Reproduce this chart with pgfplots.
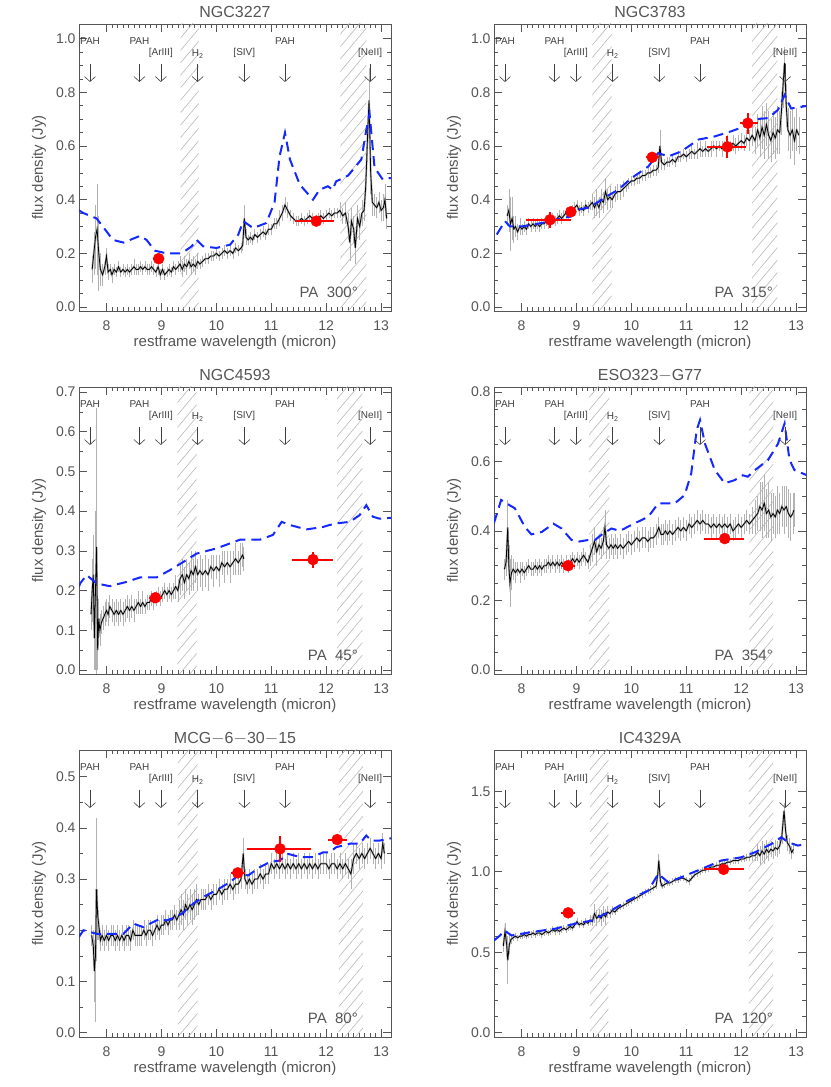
\documentclass[border=0pt]{standalone}
\usepackage{fontspec}
\setmainfont{Liberation Sans}
\usepackage{pgfplots}
\pgfplotsset{compat=1.18}
\usepackage{pgfplotstable}
\usetikzlibrary{patterns.meta,arrows.meta}

\definecolor{axc}{RGB}{85,85,85}
\definecolor{modelblue}{RGB}{20,40,255}

\pgfplotsset{
  panel/.style={
    anchor=south west, scale only axis, width=312pt, height=287pt,
    xmin=7.5, xmax=13.18, xtick={8,9,10,11,12,13}, minor x tick num=9,
    axis line style={axc, line width=0.8pt},
    every tick/.style={axc, line width=0.6pt},
    tick align=inside, major tick length=8pt, minor tick length=4pt,
    /pgf/number format/assume math mode=true,
    ticklabel style={font=\fontsize{14}{14}\selectfont, text=axc},
    xticklabel style={anchor=base, yshift=-20pt},
    yticklabel style={/pgf/number format/.cd, fixed, fixed zerofill, precision=1},
    xlabel={restframe wavelength (micron)}, ylabel={flux density (Jy)},
    every axis x label/.style={at={(axis description cs:0.5,-0.111)}, anchor=center,
      font=\fontsize{15}{15}\selectfont, text=axc},
    every axis y label/.style={at={(axis description cs:-0.128,0.5)}, anchor=center, rotate=90,
      font=\fontsize{15}{15}\selectfont, text=axc},
    title style={at={(axis description cs:0.5,1)}, anchor=base, yshift=0pt,
      font=\fontsize{16}{16}\selectfont, text=axc},
  },
  hatch/.style={draw=none, forget plot,
    pattern={Lines[angle=50,distance=8pt,line width=0.6pt]}, pattern color=black!28},
  spec/.style={gray!55, line width=2pt, forget plot,
    error bars/.cd, y dir=both, y explicit, error mark=none,
    error bar style={line width=0.6pt, gray!60}},
  specmean/.style={black, line width=0.8pt, forget plot},
  model/.style={modelblue, line width=2pt, dash pattern=on 10pt off 6pt, forget plot},
  phot/.style={red, only marks, mark=*, mark size=5.5pt, forget plot,
    error bars/.cd, x dir=both, x explicit, y dir=both, y explicit, error mark=none,
    error bar style={line width=2pt, red}},
}
\tikzset{
  lbl/.style={font=\fontsize{10}{10}\selectfont, text=black!75, inner sep=0pt},
  arr/.style={-{Straight Barb[length=5pt,width=11pt]}, line width=0.6pt, black!75},
}
\newcommand{\linelabels}{%
  \node[lbl] at (rel axis cs:0.0352,0.941) {PAH};
  \node[lbl] at (rel axis cs:0.1937,0.941) {PAH};
  \node[lbl] at (rel axis cs:0.6602,0.941) {PAH};
  \node[lbl] at (rel axis cs:0.2623,0.899) {[ArIII]};
  \node[lbl] at (rel axis cs:0.3803,0.896) {H\textsubscript{2}};
  \node[lbl] at (rel axis cs:0.5299,0.899) {[SIV]};
  \node[lbl] at (rel axis cs:0.9331,0.899) {[NeII]};
  \draw[arr] (rel axis cs:0.0352,0.861) -- (rel axis cs:0.0352,0.798);
  \draw[arr] (rel axis cs:0.1937,0.861) -- (rel axis cs:0.1937,0.798);
  \draw[arr] (rel axis cs:0.2623,0.861) -- (rel axis cs:0.2623,0.798);
  \draw[arr] (rel axis cs:0.3803,0.861) -- (rel axis cs:0.3803,0.798);
  \draw[arr] (rel axis cs:0.5299,0.861) -- (rel axis cs:0.5299,0.798);
  \draw[arr] (rel axis cs:0.6602,0.861) -- (rel axis cs:0.6602,0.798);
  \draw[arr] (rel axis cs:0.9331,0.861) -- (rel axis cs:0.9331,0.798);
}
\newcommand{\palabel}[1]{\node[anchor=base east, font=\fontsize{15}{15}\selectfont, text=axc]
  at (rel axis cs:0.905,0.046) {PA\ \ #1°};}

% ---------------- spectra: x  flux  error ----------------
\pgfplotstableread{
x y e
7.74 0.14 0.05
7.77 0.20 0.08
7.80 0.26 0.12
7.83 0.29 0.17
7.86 0.20 0.14
7.89 0.14 0.06
7.93 0.12 0.04
7.97 0.15 0.03
8.00 0.19 0.03
8.03 0.13 0.03
8.07 0.14 0.02
8.10 0.12 0.03
8.14 0.14 0.02
8.18 0.13 0.02
8.22 0.15 0.02
8.26 0.13 0.02
8.30 0.14 0.02
8.34 0.13 0.02
8.38 0.14 0.02
8.42 0.13 0.02
8.46 0.14 0.02
8.50 0.15 0.03
8.54 0.14 0.02
8.58 0.14 0.02
8.62 0.15 0.02
8.66 0.14 0.02
8.70 0.15 0.02
8.74 0.14 0.02
8.78 0.14 0.02
8.82 0.15 0.02
8.86 0.14 0.02
8.90 0.13 0.02
8.94 0.15 0.03
8.98 0.12 0.02
9.02 0.14 0.02
9.06 0.12 0.02
9.10 0.13 0.02
9.14 0.14 0.02
9.18 0.13 0.02
9.22 0.15 0.02
9.26 0.14 0.02
9.30 0.15 0.02
9.34 0.16 0.03
9.38 0.14 0.03
9.42 0.16 0.03
9.46 0.15 0.03
9.50 0.17 0.03
9.54 0.15 0.03
9.58 0.16 0.03
9.62 0.15 0.03
9.66 0.17 0.03
9.70 0.16 0.02
9.75 0.17 0.02
9.80 0.18 0.02
9.85 0.18 0.02
9.90 0.19 0.02
9.95 0.19 0.02
10.00 0.20 0.02
10.05 0.19 0.02
10.10 0.20 0.02
10.15 0.21 0.02
10.20 0.20 0.02
10.25 0.21 0.02
10.30 0.20 0.02
10.35 0.22 0.02
10.40 0.21 0.02
10.45 0.22 0.02
10.48 0.23 0.02
10.51 0.33 0.05
10.54 0.26 0.03
10.58 0.25 0.02
10.62 0.26 0.02
10.66 0.25 0.02
10.70 0.27 0.02
10.75 0.26 0.02
10.80 0.27 0.02
10.85 0.28 0.02
10.90 0.27 0.02
10.95 0.29 0.02
11.00 0.29 0.02
11.05 0.31 0.02
11.10 0.31 0.02
11.15 0.33 0.03
11.20 0.35 0.03
11.25 0.38 0.03
11.30 0.36 0.03
11.35 0.34 0.02
11.40 0.33 0.02
11.45 0.32 0.02
11.50 0.32 0.02
11.55 0.33 0.02
11.60 0.32 0.02
11.65 0.33 0.02
11.70 0.34 0.02
11.75 0.33 0.02
11.80 0.32 0.02
11.85 0.33 0.02
11.90 0.34 0.02
11.95 0.33 0.02
12.00 0.34 0.02
12.05 0.35 0.02
12.10 0.34 0.02
12.15 0.35 0.02
12.20 0.35 0.02
12.25 0.36 0.03
12.30 0.34 0.03
12.35 0.35 0.04
12.40 0.30 0.05
12.43 0.24 0.07
12.46 0.32 0.05
12.50 0.29 0.05
12.53 0.22 0.06
12.57 0.33 0.05
12.61 0.30 0.05
12.65 0.35 0.05
12.69 0.36 0.04
12.72 0.45 0.05
12.75 0.62 0.08
12.78 0.77 0.12
12.81 0.50 0.08
12.84 0.39 0.05
12.88 0.38 0.04
12.92 0.37 0.04
12.96 0.39 0.04
13.00 0.36 0.04
13.04 0.37 0.05
13.07 0.40 0.06
13.10 0.33 0.04
}\specA

\pgfplotstableread{
x y e
7.74 0.34 0.04
7.77 0.36 0.08
7.80 0.31 0.10
7.83 0.33 0.08
7.86 0.29 0.05
7.89 0.30 0.04
7.93 0.28 0.03
7.97 0.30 0.03
8.01 0.29 0.02
8.05 0.30 0.02
8.09 0.29 0.02
8.13 0.31 0.02
8.17 0.30 0.02
8.21 0.31 0.02
8.25 0.30 0.02
8.29 0.31 0.02
8.33 0.30 0.02
8.37 0.31 0.02
8.41 0.31 0.02
8.45 0.32 0.02
8.49 0.31 0.02
8.53 0.32 0.02
8.57 0.33 0.02
8.61 0.32 0.02
8.65 0.33 0.02
8.69 0.34 0.02
8.73 0.33 0.02
8.77 0.34 0.02
8.81 0.35 0.02
8.85 0.34 0.02
8.89 0.35 0.02
8.93 0.36 0.02
8.97 0.37 0.02
9.01 0.38 0.02
9.05 0.36 0.02
9.09 0.37 0.02
9.13 0.36 0.02
9.17 0.38 0.02
9.21 0.37 0.02
9.25 0.38 0.02
9.29 0.39 0.03
9.33 0.37 0.04
9.37 0.39 0.05
9.41 0.37 0.04
9.45 0.40 0.04
9.49 0.39 0.04
9.53 0.43 0.05
9.57 0.40 0.04
9.61 0.41 0.04
9.65 0.40 0.03
9.70 0.42 0.03
9.75 0.43 0.03
9.80 0.43 0.03
9.85 0.44 0.03
9.90 0.45 0.02
9.95 0.46 0.02
10.00 0.47 0.02
10.05 0.47 0.02
10.10 0.48 0.02
10.15 0.48 0.02
10.20 0.49 0.02
10.25 0.49 0.02
10.30 0.50 0.02
10.35 0.50 0.02
10.40 0.51 0.02
10.45 0.51 0.02
10.49 0.52 0.02
10.52 0.60 0.06
10.55 0.54 0.03
10.60 0.53 0.02
10.65 0.54 0.02
10.70 0.54 0.02
10.75 0.55 0.02
10.80 0.54 0.02
10.85 0.56 0.02
10.90 0.56 0.02
10.95 0.57 0.02
11.00 0.56 0.02
11.05 0.57 0.02
11.10 0.58 0.03
11.15 0.57 0.02
11.20 0.58 0.03
11.25 0.59 0.03
11.30 0.58 0.02
11.35 0.59 0.03
11.40 0.58 0.02
11.45 0.59 0.03
11.50 0.60 0.02
11.55 0.59 0.03
11.60 0.60 0.02
11.65 0.59 0.03
11.70 0.60 0.02
11.75 0.61 0.03
11.80 0.60 0.02
11.85 0.61 0.03
11.90 0.60 0.03
11.95 0.61 0.03
12.00 0.62 0.03
12.05 0.61 0.03
12.10 0.63 0.03
12.15 0.62 0.04
12.20 0.64 0.04
12.25 0.62 0.05
12.30 0.66 0.06
12.34 0.63 0.07
12.38 0.67 0.08
12.42 0.64 0.09
12.46 0.68 0.08
12.50 0.64 0.09
12.54 0.62 0.08
12.58 0.65 0.08
12.62 0.63 0.08
12.66 0.66 0.09
12.70 0.65 0.08
12.73 0.72 0.08
12.76 0.82 0.08
12.79 0.91 0.06
12.82 0.75 0.08
12.85 0.66 0.08
12.89 0.64 0.09
12.93 0.66 0.08
12.97 0.62 0.09
13.01 0.66 0.08
13.05 0.64 0.07
}\specB

\pgfplotstableread{
x y e
7.72 0.14 0.04
7.74 0.20 0.08
7.76 0.24 0.10
7.78 0.08 0.08
7.80 0.20 0.20
7.82 0.31 0.35
7.84 0.05 0.05
7.86 0.13 0.05
7.88 0.10 0.04
7.91 0.12 0.03
7.94 0.13 0.03
7.97 0.14 0.03
8.00 0.15 0.03
8.03 0.14 0.03
8.06 0.16 0.03
8.10 0.15 0.03
8.14 0.14 0.03
8.18 0.15 0.03
8.22 0.14 0.03
8.26 0.15 0.03
8.30 0.14 0.03
8.34 0.15 0.03
8.38 0.16 0.03
8.42 0.15 0.03
8.46 0.16 0.03
8.50 0.15 0.03
8.54 0.16 0.02
8.58 0.17 0.03
8.62 0.16 0.02
8.66 0.17 0.03
8.70 0.16 0.02
8.74 0.17 0.02
8.78 0.17 0.02
8.82 0.18 0.02
8.86 0.17 0.02
8.90 0.18 0.02
8.94 0.19 0.02
8.98 0.18 0.02
9.02 0.19 0.02
9.06 0.20 0.02
9.10 0.19 0.02
9.14 0.20 0.02
9.18 0.19 0.02
9.22 0.20 0.02
9.26 0.21 0.03
9.30 0.20 0.03
9.34 0.23 0.04
9.38 0.24 0.04
9.42 0.22 0.04
9.46 0.24 0.04
9.50 0.23 0.04
9.54 0.25 0.05
9.58 0.24 0.04
9.62 0.26 0.04
9.66 0.24 0.04
9.70 0.25 0.04
9.75 0.24 0.04
9.80 0.25 0.04
9.85 0.24 0.04
9.90 0.26 0.03
9.95 0.25 0.04
10.00 0.26 0.03
10.05 0.25 0.04
10.10 0.27 0.03
10.15 0.26 0.04
10.20 0.27 0.03
10.25 0.26 0.04
10.30 0.27 0.03
10.35 0.28 0.04
10.40 0.27 0.03
10.44 0.28 0.04
10.48 0.29 0.03
10.50 0.28 0.03
}\specC

\pgfplotstableread{
x y e
7.69 0.29 0.03
7.72 0.31 0.04
7.75 0.41 0.08
7.77 0.30 0.06
7.79 0.25 0.07
7.82 0.28 0.05
7.85 0.29 0.03
7.89 0.28 0.03
7.93 0.29 0.02
7.97 0.28 0.03
8.01 0.29 0.02
8.05 0.28 0.02
8.09 0.29 0.02
8.13 0.30 0.02
8.17 0.29 0.02
8.21 0.29 0.02
8.25 0.30 0.02
8.29 0.29 0.02
8.33 0.30 0.02
8.37 0.29 0.02
8.41 0.30 0.02
8.45 0.30 0.02
8.49 0.31 0.02
8.53 0.30 0.02
8.57 0.31 0.02
8.61 0.30 0.02
8.65 0.31 0.02
8.69 0.30 0.02
8.73 0.31 0.02
8.77 0.30 0.02
8.81 0.31 0.02
8.85 0.30 0.02
8.89 0.31 0.02
8.93 0.32 0.02
8.97 0.31 0.02
9.01 0.32 0.02
9.05 0.31 0.02
9.09 0.32 0.02
9.13 0.33 0.02
9.17 0.32 0.02
9.21 0.31 0.02
9.25 0.33 0.03
9.29 0.35 0.04
9.33 0.37 0.04
9.37 0.34 0.04
9.41 0.36 0.03
9.45 0.35 0.03
9.49 0.37 0.04
9.52 0.41 0.05
9.55 0.36 0.04
9.59 0.35 0.03
9.63 0.36 0.03
9.67 0.35 0.03
9.71 0.36 0.03
9.75 0.35 0.03
9.80 0.36 0.03
9.85 0.35 0.03
9.90 0.36 0.03
9.95 0.37 0.03
10.00 0.36 0.03
10.05 0.37 0.03
10.10 0.38 0.03
10.15 0.37 0.03
10.20 0.38 0.03
10.25 0.38 0.03
10.30 0.37 0.03
10.35 0.38 0.03
10.40 0.38 0.03
10.45 0.39 0.03
10.50 0.41 0.03
10.54 0.39 0.03
10.58 0.39 0.03
10.62 0.40 0.03
10.66 0.39 0.03
10.70 0.40 0.03
10.75 0.39 0.03
10.80 0.40 0.03
10.85 0.41 0.03
10.90 0.40 0.03
10.95 0.41 0.03
11.00 0.40 0.03
11.05 0.42 0.03
11.10 0.41 0.03
11.15 0.42 0.03
11.20 0.43 0.03
11.25 0.42 0.03
11.30 0.43 0.03
11.35 0.42 0.03
11.40 0.42 0.03
11.45 0.41 0.03
11.50 0.42 0.03
11.55 0.41 0.03
11.60 0.42 0.03
11.65 0.41 0.03
11.70 0.42 0.03
11.75 0.41 0.03
11.80 0.42 0.03
11.85 0.40 0.03
11.90 0.41 0.03
11.95 0.42 0.03
12.00 0.41 0.03
12.05 0.42 0.03
12.10 0.43 0.03
12.15 0.42 0.03
12.20 0.43 0.04
12.25 0.44 0.05
12.30 0.45 0.05
12.34 0.47 0.07
12.38 0.46 0.08
12.42 0.48 0.08
12.46 0.45 0.07
12.50 0.46 0.08
12.54 0.44 0.07
12.58 0.45 0.06
12.62 0.44 0.06
12.66 0.46 0.07
12.70 0.45 0.06
12.74 0.47 0.06
12.78 0.46 0.07
12.82 0.47 0.06
12.86 0.45 0.07
12.90 0.44 0.07
12.94 0.45 0.06
12.96 0.46 0.05
}\specD

\pgfplotstableread{
x y e
7.73 0.19 0.02
7.76 0.17 0.03
7.78 0.12 0.06
7.80 0.15 0.13
7.82 0.28 0.14
7.84 0.23 0.05
7.86 0.21 0.03
7.89 0.18 0.02
7.92 0.19 0.02
7.96 0.18 0.02
8.00 0.19 0.02
8.04 0.18 0.02
8.08 0.19 0.02
8.12 0.19 0.02
8.16 0.18 0.02
8.20 0.19 0.02
8.24 0.18 0.02
8.28 0.19 0.02
8.32 0.18 0.02
8.36 0.19 0.02
8.40 0.19 0.02
8.44 0.18 0.02
8.48 0.20 0.02
8.52 0.19 0.02
8.56 0.19 0.02
8.60 0.19 0.02
8.64 0.19 0.02
8.68 0.20 0.02
8.72 0.19 0.02
8.76 0.20 0.02
8.80 0.20 0.02
8.84 0.19 0.02
8.88 0.20 0.02
8.92 0.21 0.02
8.96 0.20 0.02
9.00 0.21 0.02
9.04 0.21 0.02
9.08 0.22 0.02
9.12 0.21 0.02
9.16 0.22 0.02
9.20 0.22 0.02
9.24 0.23 0.02
9.28 0.22 0.02
9.32 0.23 0.03
9.36 0.24 0.03
9.40 0.23 0.03
9.44 0.25 0.03
9.48 0.24 0.03
9.52 0.25 0.03
9.56 0.24 0.03
9.60 0.25 0.03
9.64 0.26 0.03
9.68 0.25 0.02
9.72 0.26 0.02
9.76 0.26 0.02
9.80 0.26 0.02
9.85 0.27 0.02
9.90 0.26 0.02
9.95 0.27 0.02
10.00 0.27 0.02
10.05 0.28 0.02
10.10 0.27 0.02
10.15 0.28 0.02
10.20 0.28 0.02
10.25 0.29 0.02
10.30 0.28 0.02
10.35 0.29 0.02
10.40 0.29 0.02
10.45 0.30 0.02
10.49 0.35 0.03
10.52 0.30 0.02
10.56 0.29 0.02
10.60 0.30 0.02
10.65 0.29 0.02
10.70 0.30 0.02
10.75 0.30 0.02
10.80 0.31 0.02
10.85 0.30 0.02
10.90 0.31 0.02
10.95 0.31 0.02
11.00 0.33 0.02
11.05 0.32 0.02
11.10 0.33 0.02
11.15 0.32 0.02
11.20 0.33 0.02
11.25 0.32 0.02
11.30 0.33 0.02
11.35 0.32 0.02
11.40 0.33 0.02
11.45 0.32 0.02
11.50 0.33 0.02
11.55 0.32 0.02
11.60 0.33 0.02
11.65 0.32 0.02
11.70 0.33 0.02
11.75 0.32 0.02
11.80 0.33 0.02
11.85 0.32 0.02
11.90 0.33 0.02
11.95 0.33 0.02
12.00 0.33 0.02
12.05 0.32 0.02
12.10 0.33 0.02
12.15 0.33 0.02
12.20 0.32 0.02
12.25 0.33 0.02
12.30 0.32 0.02
12.35 0.33 0.02
12.40 0.32 0.02
12.45 0.31 0.03
12.50 0.34 0.03
12.55 0.35 0.02
12.60 0.34 0.02
12.65 0.35 0.02
12.70 0.34 0.02
12.75 0.35 0.02
12.80 0.36 0.02
12.85 0.35 0.02
12.90 0.34 0.02
12.95 0.35 0.02
13.00 0.34 0.02
13.03 0.37 0.02
13.06 0.35 0.02
}\specE

\pgfplotstableread{
x y e
7.67 0.54 0.04
7.70 0.63 0.05
7.73 0.55 0.08
7.75 0.45 0.15
7.78 0.55 0.06
7.81 0.58 0.03
7.85 0.59 0.02
7.89 0.60 0.02
7.93 0.59 0.02
7.97 0.60 0.02
8.01 0.60 0.02
8.05 0.61 0.02
8.09 0.60 0.02
8.13 0.61 0.02
8.17 0.61 0.02
8.21 0.62 0.02
8.25 0.61 0.02
8.29 0.62 0.02
8.33 0.62 0.02
8.37 0.61 0.02
8.41 0.62 0.02
8.45 0.63 0.02
8.49 0.62 0.02
8.53 0.63 0.02
8.57 0.64 0.02
8.61 0.63 0.02
8.65 0.64 0.02
8.69 0.63 0.02
8.73 0.64 0.02
8.77 0.65 0.02
8.81 0.64 0.02
8.85 0.65 0.02
8.89 0.66 0.02
8.93 0.65 0.02
8.97 0.67 0.02
9.01 0.69 0.02
9.05 0.67 0.02
9.09 0.68 0.02
9.13 0.67 0.02
9.17 0.69 0.02
9.21 0.68 0.02
9.25 0.70 0.03
9.29 0.69 0.03
9.33 0.74 0.06
9.37 0.71 0.05
9.41 0.73 0.04
9.45 0.71 0.05
9.49 0.74 0.05
9.53 0.72 0.05
9.57 0.75 0.04
9.61 0.74 0.03
9.65 0.76 0.03
9.70 0.75 0.02
9.75 0.77 0.02
9.80 0.78 0.02
9.85 0.79 0.02
9.90 0.80 0.02
9.95 0.81 0.02
10.00 0.82 0.02
10.05 0.83 0.02
10.10 0.84 0.02
10.15 0.85 0.02
10.20 0.86 0.02
10.25 0.87 0.02
10.30 0.88 0.02
10.35 0.89 0.02
10.40 0.90 0.02
10.45 0.91 0.02
10.48 0.98 0.03
10.50 1.07 0.04
10.53 0.94 0.03
10.56 0.91 0.02
10.60 0.92 0.02
10.65 0.93 0.02
10.70 0.93 0.02
10.75 0.94 0.02
10.80 0.95 0.02
10.85 0.95 0.02
10.90 0.96 0.02
10.95 0.96 0.02
11.00 0.95 0.02
11.05 0.94 0.02
11.10 0.96 0.02
11.15 0.98 0.02
11.20 0.99 0.02
11.25 1.00 0.02
11.30 1.01 0.02
11.35 1.01 0.02
11.40 1.02 0.02
11.45 1.03 0.02
11.50 1.03 0.02
11.55 1.04 0.02
11.60 1.04 0.02
11.65 1.05 0.02
11.70 1.05 0.02
11.75 1.06 0.02
11.80 1.06 0.02
11.85 1.07 0.02
11.90 1.07 0.02
11.95 1.07 0.02
12.00 1.08 0.02
12.05 1.08 0.02
12.10 1.09 0.02
12.15 1.09 0.02
12.20 1.10 0.03
12.25 1.10 0.03
12.30 1.12 0.05
12.34 1.10 0.06
12.38 1.13 0.06
12.42 1.11 0.06
12.46 1.14 0.06
12.50 1.12 0.05
12.54 1.14 0.05
12.58 1.13 0.05
12.62 1.15 0.05
12.66 1.14 0.05
12.70 1.16 0.05
12.74 1.22 0.05
12.78 1.38 0.05
12.81 1.25 0.05
12.84 1.18 0.05
12.88 1.16 0.05
12.92 1.12 0.04
12.95 1.14 0.03
}\specF

\begin{document}
\begin{tikzpicture}
\useasboundingbox (0,0) rectangle (830pt,1087pt);

% ---------------- NGC3227 ----------------
\begin{axis}[panel, at={(79pt,776pt)}, title={NGC3227},
  ymin=-0.015, ymax=1.055, ytick={0,0.2,0.4,0.6,0.8,1.0}, minor y tick num=3]
\addplot[hatch] coordinates {(9.35,-1) (9.35,3) (9.68,3) (9.68,-1)} -- cycle;
\addplot[hatch] coordinates {(12.26,-1) (12.26,3) (12.73,3) (12.73,-1)} -- cycle;
\addplot[spec] table[x=x,y=y,y error=e] {\specA};
\addplot[specmean] table[x=x,y=y] {\specA};
\addplot[model] coordinates {(7.50,0.36) (7.58,0.35) (7.82,0.33) (8.12,0.25) (8.31,0.24)
  (8.61,0.265) (8.73,0.25) (8.88,0.21) (9.09,0.20) (9.37,0.20) (9.55,0.226) (9.64,0.25)
  (9.76,0.226) (10.0,0.22) (10.25,0.232) (10.4,0.27) (10.49,0.32) (10.67,0.294)
  (10.91,0.313) (11.06,0.39) (11.15,0.56) (11.25,0.65) (11.34,0.55) (11.52,0.456)
  (11.76,0.40) (11.88,0.437) (12.03,0.45) (12.12,0.437) (12.18,0.468) (12.40,0.49)
  (12.64,0.55) (12.73,0.66) (12.79,0.72) (12.88,0.52) (13.03,0.475) (13.15,0.48) (13.2,0.48)};
\addplot[phot] coordinates {(8.95,0.18) +- (0.1,0.01)
  (11.82,0.32) += (0.33,0.02) -= (0.39,0.02)};
\linelabels
\palabel{300}
\end{axis}

% ---------------- NGC3783 ----------------
\begin{axis}[panel, at={(494pt,776pt)}, title={NGC3783},
  ymin=-0.015, ymax=1.055, ytick={0,0.2,0.4,0.6,0.8,1.0}, minor y tick num=3]
\addplot[hatch] coordinates {(9.29,-1) (9.29,3) (9.64,3) (9.64,-1)} -- cycle;
\addplot[hatch] coordinates {(12.20,-1) (12.20,3) (12.66,3) (12.66,-1)} -- cycle;
\addplot[spec] table[x=x,y=y,y error=e] {\specB};
\addplot[specmean] table[x=x,y=y] {\specB};
\addplot[model] coordinates {(7.55,0.27) (7.7,0.32) (7.79,0.30) (8.0,0.30) (8.37,0.313)
  (8.73,0.33) (8.91,0.338) (9.03,0.363) (9.22,0.37) (9.37,0.388) (9.55,0.412)
  (9.76,0.437) (10.0,0.48) (10.31,0.524) (10.49,0.574) (10.67,0.561) (10.91,0.58)
  (11.22,0.624) (11.52,0.636) (11.82,0.655) (12.06,0.673) (12.25,0.70) (12.49,0.704)
  (12.67,0.735) (12.79,0.79) (12.91,0.74) (13.15,0.748) (13.2,0.75)};
\addplot[phot] coordinates {(8.52,0.325) += (0.39,0.03) -= (0.43,0.03)
  (8.90,0.355) +- (0.10,0.015)
  (10.38,0.558) +- (0.12,0.015)
  (11.75,0.597) += (0.34,0.04) -= (0.38,0.04)
  (12.12,0.685) += (0.18,0.04) -= (0.15,0.04)};
\linelabels
\palabel{315}
\end{axis}

% ---------------- NGC4593 ----------------
\begin{axis}[panel, at={(79pt,413pt)}, title={NGC4593},
  ymin=-0.01, ymax=0.7125, ytick={0,0.1,0.2,0.3,0.4,0.5,0.6,0.7}, minor y tick num=1]
\addplot[hatch] coordinates {(9.29,-1) (9.29,3) (9.64,3) (9.64,-1)} -- cycle;
\addplot[hatch] coordinates {(12.20,-1) (12.20,3) (12.66,3) (12.66,-1)} -- cycle;
\addplot[spec] table[x=x,y=y,y error=e] {\specC};
\addplot[specmean] table[x=x,y=y] {\specC};
\addplot[model] coordinates {(7.50,0.21) (7.52,0.218) (7.64,0.239) (7.82,0.218)
  (8.06,0.211) (8.37,0.222) (8.61,0.233) (8.91,0.233) (9.15,0.251) (9.34,0.267)
  (9.64,0.293) (10.0,0.306) (10.43,0.328) (10.79,0.328) (11.03,0.34) (11.19,0.373)
  (11.34,0.365) (11.64,0.354) (11.94,0.36) (12.06,0.365) (12.18,0.369) (12.43,0.373)
  (12.61,0.39) (12.73,0.415) (12.85,0.386) (12.97,0.381) (13.15,0.383) (13.2,0.383)};
\addplot[phot] coordinates {(8.89,0.182) +- (0.12,0.01)
  (11.76,0.278) += (0.36,0.02) -= (0.38,0.02)};
\linelabels
\palabel{45}
\end{axis}

% ---------------- ESO323-G77 ----------------
\begin{axis}[panel, at={(494pt,413pt)}, title={ESO323$-$G77},
  ymin=-0.0115, ymax=0.814, ytick={0,0.2,0.4,0.6,0.8}, minor y tick num=3]
\addplot[hatch] coordinates {(9.23,-1) (9.23,3) (9.60,3) (9.60,-1)} -- cycle;
\addplot[hatch] coordinates {(12.15,-1) (12.15,3) (12.58,3) (12.58,-1)} -- cycle;
\addplot[spec] table[x=x,y=y,y error=e] {\specD};
\addplot[specmean] table[x=x,y=y] {\specD};
\addplot[model] coordinates {(7.5,0.423) (7.63,0.489) (7.73,0.479) (7.88,0.465)
  (8.06,0.412) (8.18,0.39) (8.37,0.397) (8.58,0.421) (8.73,0.407) (8.91,0.374)
  (9.03,0.369) (9.22,0.374) (9.34,0.374) (9.49,0.393) (9.64,0.407) (9.79,0.40)
  (10.0,0.417) (10.31,0.441) (10.49,0.479) (10.79,0.479) (10.97,0.503) (11.09,0.565)
  (11.19,0.69) (11.25,0.719) (11.34,0.651) (11.52,0.575) (11.70,0.537) (11.88,0.546)
  (12.03,0.56) (12.12,0.556) (12.25,0.575) (12.49,0.604) (12.67,0.651) (12.79,0.709)
  (12.88,0.604) (12.97,0.575) (13.2,0.56)};
\addplot[phot] coordinates {(8.85,0.30) +- (0.13,0.01)
  (11.70,0.378) += (0.35,0.01) -= (0.37,0.01)};
\linelabels
\palabel{354}
\end{axis}

% ---------------- MCG-6-30-15 ----------------
\begin{axis}[panel, at={(79pt,50pt)}, title={MCG$-$6$-$30$-$15},
  ymin=-0.0085, ymax=0.552, ytick={0,0.1,0.2,0.3,0.4,0.5}, minor y tick num=1]
\addplot[hatch] coordinates {(9.30,-1) (9.30,3) (9.66,3) (9.66,-1)} -- cycle;
\addplot[hatch] coordinates {(12.23,-1) (12.23,3) (12.67,3) (12.67,-1)} -- cycle;
\addplot[spec] table[x=x,y=y,y error=e] {\specE};
\addplot[specmean] table[x=x,y=y] {\specE};
\addplot[model] coordinates {(7.5,0.187) (7.58,0.20) (7.82,0.193) (8.12,0.193)
  (8.31,0.193) (8.49,0.213) (8.67,0.206) (8.85,0.216) (8.97,0.222) (9.09,0.219)
  (9.22,0.224) (9.37,0.232) (9.58,0.252) (9.76,0.265) (10.0,0.278) (10.25,0.294)
  (10.43,0.31) (10.58,0.307) (10.79,0.323) (10.97,0.333) (11.15,0.336) (11.31,0.349)
  (11.52,0.343) (11.76,0.343) (11.94,0.352) (12.06,0.352) (12.18,0.362) (12.43,0.369)
  (12.61,0.369) (12.73,0.385) (12.82,0.375) (12.97,0.375) (13.2,0.38)};
\addplot[phot] coordinates {(10.39,0.312) +- (0.13,0.01)
  (11.16,0.359) += (0.57,0.025) -= (0.60,0.025)
  (12.20,0.377) +- (0.17,0.008)};
\linelabels
\palabel{80}
\end{axis}

% ---------------- IC4329A ----------------
\begin{axis}[panel, at={(494pt,50pt)}, title={IC4329A},
  ymin=-0.027, ymax=1.757, ytick={0,0.5,1.0,1.5}, minor y tick num=4]
\addplot[hatch] coordinates {(9.25,-1) (9.25,3) (9.58,3) (9.58,-1)} -- cycle;
\addplot[hatch] coordinates {(12.14,-1) (12.14,3) (12.58,3) (12.58,-1)} -- cycle;
\addplot[spec] table[x=x,y=y,y error=e] {\specF};
\addplot[specmean] table[x=x,y=y] {\specF};
\addplot[model] coordinates {(7.5,0.573) (7.61,0.604) (7.69,0.635) (7.82,0.604)
  (8.18,0.625) (8.61,0.646) (8.97,0.677) (9.28,0.697) (9.58,0.749) (9.94,0.821)
  (10.31,0.884) (10.49,0.987) (10.67,0.935) (10.91,0.966) (11.28,1.018) (11.64,1.07)
  (12.0,1.09) (12.25,1.121) (12.55,1.173) (12.73,1.215) (12.85,1.184) (13.03,1.163)
  (13.2,1.173)};
\addplot[phot] coordinates {(8.85,0.745) +- (0.13,0.02)
  (11.68,1.015) += (0.37,0.02) -= (0.36,0.02)};
\linelabels
\palabel{120}
\end{axis}
\end{tikzpicture}
\end{document}
